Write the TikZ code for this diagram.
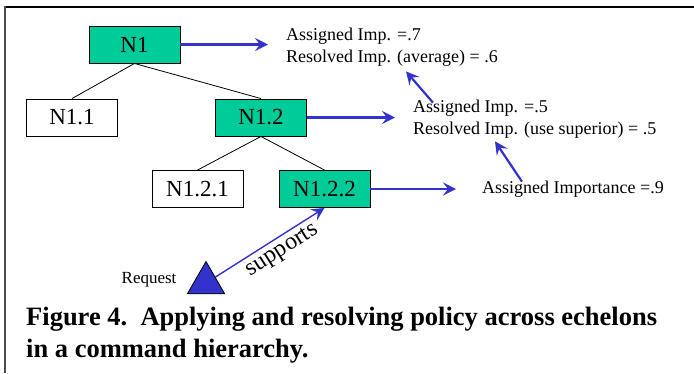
\documentclass[tikz,border=0pt]{standalone}
\usepackage{fontspec}
\setmainfont{Liberation Serif}
\usetikzlibrary{shapes.geometric, calc, arrows.meta}
\definecolor{nodegreen}{RGB}{0,204,153}
\definecolor{linkblue}{RGB}{51,51,204}
\tikzset{
	unit/.style = {draw, line width = 0.9pt, minimum width = 91pt, minimum height = 37pt, inner sep = 0pt, font = \fontsize{23}{23}\selectfont},
	active/.style = {unit, fill = nodegreen},
	note/.style = {anchor = west, align = left, inner sep = 0pt, font = \fontsize{18}{22}\selectfont},
	link/.style = {draw = linkblue, line width = 2.2pt, -{Stealth[length = 13pt, width = 13pt, inset = 5pt]}},
	tree/.style = {line width = 0.8pt}
}

\begin{document}
\begin{tikzpicture}[x = 1pt, y = -1pt]
			\useasboundingbox (0, 0) rectangle (694, 373);
			\draw[line width = 2.5pt] (4, 7) -- (694, 7);
			\draw[line width = 1.8pt, black!70] (5, 6) -- (5, 373);
			\node[active] (n1) at (134.5, 44.5) {N1};
			\node[unit] (n11) at (72, 117.5) {N1.1};
			\node[active] (n12) at (261, 117.5) {N1.2};
			\node[unit] (n121) at (197.5, 189) {N1.2.1};
			\node[active] (n122) at (324.5, 189) {N1.2.2};
			\draw[tree] (n1.south) -- (n11.north);
			\draw[tree] (n1.south) -- (n12.north);
			\draw[tree] (n12.south) -- (n121.north);
			\draw[tree] (n12.south) -- (n122.north);
			\node[note] (imp1) at (286, 47) {Assigned Imp. =.7\\Resolved Imp. (average) = .6};
			\node[note] (imp2) at (413, 119) {Assigned Imp. =.5\\Resolved Imp. (use superior) = .5};
			\node[note] (imp3) at (482, 189) {Assigned Importance =.9};
			\draw[link, shorten > = 18pt] (n1.east) -- (n1.east -| imp1.west);
			\draw[link, shorten > = 18pt] (n12.east) -- (n12.east -| imp2.west);
			\draw[link, shorten > = 26pt] (n122.east) -- (n122.east -| imp3.west);
			\draw[link] ($(imp2.north west) + (20, 3)$) -- ($(imp1.south west) + (120, 5)$);
			\draw[link] ($(imp3.north west) + (40, 1)$) -- ($(imp2.south west) + (82, 3)$);
			\node[regular polygon, regular polygon sides = 3, draw, line width = 0.8pt, fill = linkblue, minimum size = 43pt, inner sep = 0pt] (req) at (206, 283) {};
			\node[anchor = east, font = \fontsize{17}{17}\selectfont] (reqlabel) at (180, 280) {Request};
			\draw[link, line width = 1.4pt] (req) -- (n122.south) node[pos = 0.55, sloped, below, inner sep = 4pt, font = \fontsize{24}{24}\selectfont] {supports};
			\node[anchor = base west, inner sep = 0pt, font = \bfseries\fontsize{26.5}{32}\selectfont] (cap1) at (26, 325) {Figure 4.\ \ Applying and resolving policy across echelons};
			\node[anchor = base west, inner sep = 0pt, font = \bfseries\fontsize{26.5}{32}\selectfont] (cap2) at (26, 357) {in a command hierarchy.};
		\end{tikzpicture}
\end{document}
